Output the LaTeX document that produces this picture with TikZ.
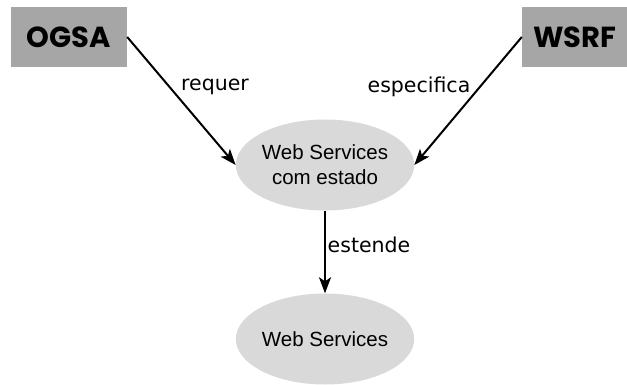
\documentclass[tikz,border=0pt]{standalone}
\usepackage{fontspec}
\setmainfont{Liberation Sans}
\newfontfamily\labelfont{DejaVu Sans}
\newfontfamily\headfont{Poppins}
\usetikzlibrary{shapes.geometric,arrows.meta}
\begin{document}
\begin{tikzpicture}[x=1pt,y=-1pt,
  spec/.style={fill=black!35,minimum width=116pt,minimum height=60pt,inner sep=0pt,
    font=\headfont\bfseries\fontsize{29}{32}\selectfont},
  svc/.style={ellipse,fill=black!15,minimum width=174pt,minimum height=91pt,inner sep=0pt,
    align=center,font=\fontsize{20.5}{25}\selectfont},
  rel/.style={-{Stealth[length=16pt,width=12pt,inset=4pt]},line width=2pt},
  lbl/.style={font=\labelfont\fontsize{20.5}{24}\selectfont,inner sep=0pt}]
  \useasboundingbox (0,0) rectangle (627,385);
  \node[spec] (ogsa) at (69,37) {OGSA};
  \node[spec,minimum width=106pt] (wsrf) at (575,37) {WSRF};
  \node[svc] (ws1) at (325,165) {Web Services\\com estado};
  \node[svc] (ws2) at (325,339) {Web Services};
  \draw[rel] (ogsa.east) -- (ws1.west);
  \draw[rel] (wsrf.west) -- (ws1.east);
  \draw[rel] (ws1.south) -- (ws2.north);
  \node[lbl] (l1) at (215,87) {requer};
  \node[lbl] (l2) at (419,87) {especifica};
  \node[lbl] (l3) at (369,245) {estende};
\end{tikzpicture}
\end{document}
